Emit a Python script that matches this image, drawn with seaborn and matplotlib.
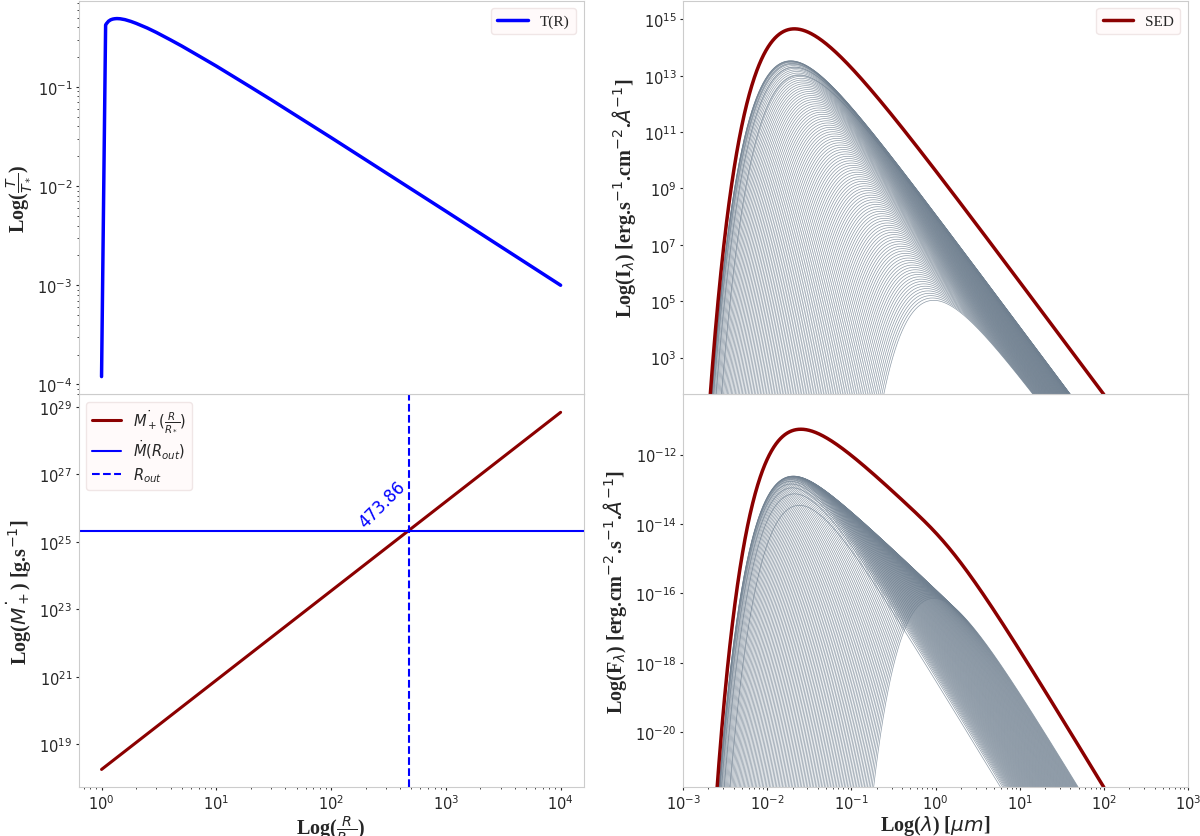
import numpy as np
import pandas as pd
import matplotlib
matplotlib.use('Agg')
import matplotlib.pyplot as plt
import seaborn as sns

# T(R) profile
r_profile = [1.0, 1.085, 1.1, 1.15, 1.2, 1.25, 1.3, 1.36, 1.45, 1.6, 1.8, 2.0, 2.5, 3.0, 4.0,
             5.0, 7.0, 10.0, 20.0, 30.0, 100.0, 1000.0, 10000.0]
t_profile = [1.2e-4, 0.42, 0.432, 0.459, 0.474, 0.482, 0.486, 0.488, 0.486, 0.476, 0.457, 0.437,
             0.392, 0.354, 0.297, 0.258, 0.206, 0.162, 0.0992, 0.0742, 0.0308, 0.00558, 0.001]

# accretion rate line (end points) and where it crosses Mdot(R_out)
r_mdot = [1.0, 1.0e4]
mdot = [1.78e18, 6.9e28]
r_out = 473.86
mdot_out = 2.1e25

t_star = 3.13e5        # K
n_rings = 120
flux_scale = 3.0e-27   # ring area / distance^2 factor
lam_um = np.logspace(-3, 2, 1500)

# blackbody of each ring
h, c, k = 6.626e-27, 2.998e10, 1.381e-16
lam_cm = lam_um * 1e-4
radii = np.logspace(0, np.log10(r_out), n_rings)
temps = t_star * radii**-0.75 * (1 - radii**-0.5)**0.25
with np.errstate(over='ignore', divide='ignore', invalid='ignore'):
    intens = 2 * h * c**2 / lam_cm**5 / np.expm1(h * c / (lam_cm[None, :] * k * temps[:, None])) * 1e-8
intens = np.nan_to_num(intens)
flux = intens * flux_scale * radii[:, None]**2
sed_i = intens.sum(axis=0)
sed_f = flux.sum(axis=0)

rings = pd.DataFrame({
    'ring': np.repeat(np.arange(n_rings), lam_um.size),
    'lam': np.tile(lam_um, n_rings),
    'I': intens.ravel(),
    'F': flux.ravel(),
})

sns.set_style('white', {'axes.edgecolor': '0.8', 'xtick.bottom': True, 'ytick.left': True})
plt.rcParams.update({
    'xtick.labelsize': 10.5, 'ytick.labelsize': 10.5,
    'xtick.major.size': 2.5, 'ytick.major.size': 2.5,
    'xtick.minor.size': 1.5, 'ytick.minor.size': 1.5,
    'xtick.major.pad': 2, 'ytick.major.pad': 2,
    'xtick.minor.pad': 2, 'ytick.minor.pad': 2,
})

serif = 'Liberation Serif'
lab = dict(fontfamily=serif, fontweight='bold', fontsize=14.5)
leg_box = dict(facecolor='#fffafa', edgecolor='#f0e6e6', framealpha=1)

fig = plt.figure(figsize=(12, 8.37), dpi=100)
ax_bl = fig.add_axes([0.0655, 0.0582, 0.4208, 0.4693])
ax_tl = fig.add_axes([0.0655, 0.5275, 0.4208, 0.4705], sharex=ax_bl)
ax_br = fig.add_axes([0.5692, 0.0582, 0.4208, 0.4693])
ax_tr = fig.add_axes([0.5692, 0.5275, 0.4208, 0.4705], sharex=ax_br)

for ax in (ax_bl, ax_tl, ax_br, ax_tr):
    ax.set_xscale('log')
    ax.set_yscale('log')

# top left: temperature profile
prof = pd.DataFrame({'R': r_profile, 'T': t_profile})
sns.lineplot(data=prof, x='R', y='T', ax=ax_tl, color='blue', linewidth=2.5, label='T(R)', sort=False)
ax_tl.set_ylabel(r'Log($\frac{T}{T_*}$)', **lab)
ax_tl.set_xlabel('')
ax_tl.legend(loc='upper right', prop={'family': serif, 'size': 11}, **leg_box)

# bottom left: accretion rate
md = pd.DataFrame({'R': r_mdot, 'Mdot': mdot})
sns.lineplot(data=md, x='R', y='Mdot', ax=ax_bl, color='darkred', linewidth=2.2,
             label=r'$\dot{M_+}(\frac{R}{R_*})$')
ax_bl.axhline(mdot_out, color='blue', linewidth=1.5, label=r'$\dot{M}(R_{out})$')
ax_bl.axvline(r_out, color='blue', linewidth=1.5, linestyle='--', label=r'$R_{out}$')
ax_bl.text(r_out, mdot_out, f'{r_out:.2f}', rotation=45, color='blue', fontsize=12,
           ha='right', va='bottom')
ax_bl.set_ylabel(r'Log($\dot{M_+}$) [g.s$^{-1}$]', **lab)
ax_bl.set_xlabel(r'Log($\frac{R}{R_*}$)', labelpad=0.5, **lab)
ax_bl.legend(loc='upper left', fontsize=10.5, labelspacing=0.3, **leg_box)

# top right: ring intensities and SED
sns.lineplot(data=rings[rings['I'] > 1e-2], x='lam', y='I', units='ring', estimator=None,
             ax=ax_tr, color='slategray', linewidth=0.5, alpha=0.8, legend=False)
sed1 = pd.DataFrame({'lam': lam_um, 'S': sed_i})
sns.lineplot(data=sed1, x='lam', y='S', ax=ax_tr, color='darkred', linewidth=2.5, label='SED')
ax_tr.set_ylim(sed_i[-1], sed_i.max() * 10)
ax_tr.set_ylabel(r'Log(I$_{\lambda}$) [erg.s$^{-1}$.cm$^{-2}$.$\AA^{-1}$]', **lab)
ax_tr.set_xlabel('')
ax_tr.legend(loc='upper right', prop={'family': serif, 'size': 11}, **leg_box)

# bottom right: ring fluxes and SED
sns.lineplot(data=rings[rings['F'] > 1e-24], x='lam', y='F', units='ring', estimator=None,
             ax=ax_br, color='slategray', linewidth=0.5, alpha=0.8, legend=False)
sed2 = pd.DataFrame({'lam': lam_um, 'S': sed_f})
sns.lineplot(data=sed2, x='lam', y='S', ax=ax_br, color='darkred', linewidth=2.5, legend=False)
ax_br.set_ylim(sed_f[-1], sed_f.max() * 10)
ax_br.set_xlim(1e-3, 1e3)
ax_br.set_ylabel(r'Log(F$_{\lambda}$) [erg.cm$^{-2}$.s$^{-1}$.$\AA^{-1}$]', **lab)
ax_br.set_xlabel(r'Log($\lambda$) [$\mu m$]', labelpad=0.5, **lab)

for ax in (ax_tl, ax_tr):
    ax.tick_params(axis='x', which='both', bottom=False, labelbottom=False)

fig.savefig('out.png', dpi=100)
